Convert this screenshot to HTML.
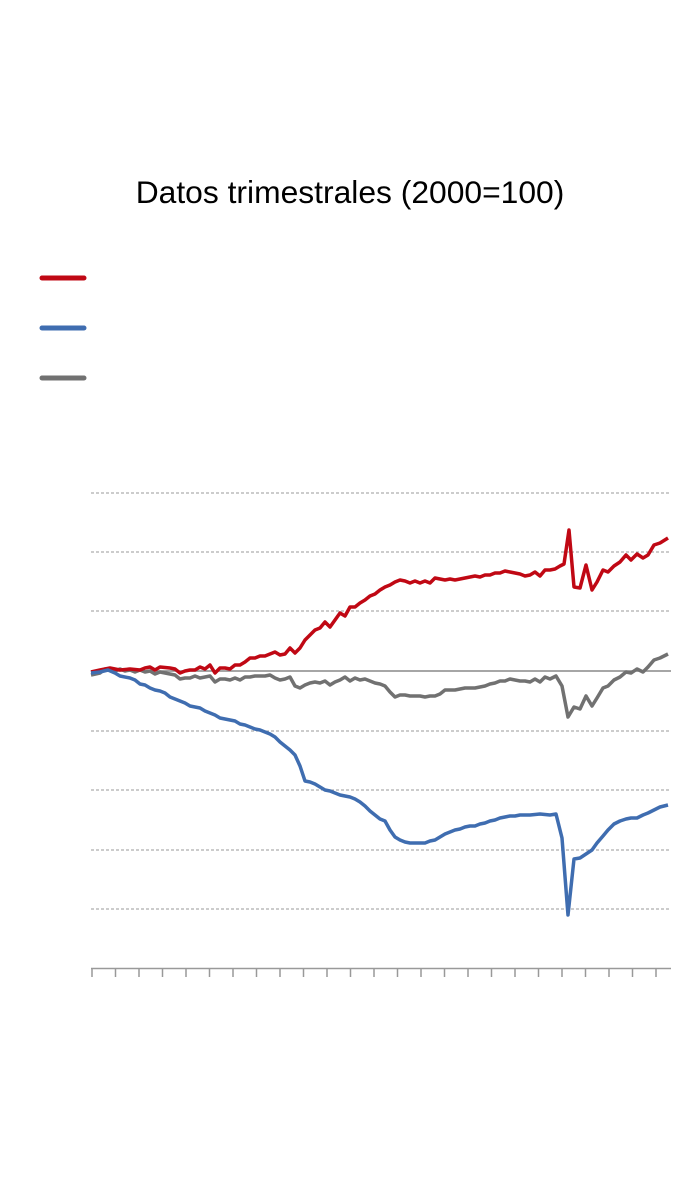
<!DOCTYPE html>
<html><head><meta charset="utf-8"><style>
html,body{margin:0;padding:0;background:#fff;}
svg{display:block;}
</style></head><body>
<svg width="700" height="1200" viewBox="0 0 700 1200" xmlns="http://www.w3.org/2000/svg">
<text x="350" y="203" text-anchor="middle" font-family="Liberation Sans, sans-serif" font-size="31.8" fill="#000">Datos trimestrales (2000=100)</text>
<g stroke-width="5" stroke-linecap="round">
<line x1="42" y1="278" x2="84" y2="278" stroke="#c00814"/>
<line x1="42" y1="328" x2="84" y2="328" stroke="#3f6db0"/>
<line x1="42" y1="378" x2="84" y2="378" stroke="#717171"/>
</g>
<g stroke="#999" stroke-width="1" stroke-dasharray="3,2">
<line x1="91" y1="493" x2="671" y2="493"/>
<line x1="91" y1="552" x2="671" y2="552"/>
<line x1="91" y1="611" x2="671" y2="611"/>
<line x1="91" y1="731" x2="671" y2="731"/>
<line x1="91" y1="790" x2="671" y2="790"/>
<line x1="91" y1="850" x2="671" y2="850"/>
<line x1="91" y1="909" x2="671" y2="909"/>
</g>
<line x1="91" y1="671" x2="671" y2="671" stroke="#888" stroke-width="1.5"/>
<line x1="91" y1="968.5" x2="671" y2="968.5" stroke="#999" stroke-width="1.5"/>
<g fill="none" stroke-width="3.5" stroke-linejoin="round">
<polyline stroke="#717171" points="91,675 100,673 105,669 110,670 115,671 120,669 125,671 130,670 135,672 140,670 145,672 150,671 155,674 160,672 165,673 170,674 175,675 180,679 185,678 190,678 195,676 200,678 205,677 210,676 215,682 220,679 225,679 230,680 235,678 240,680 245,677 250,677 255,676 260,676 265,676 270,675 275,678 280,680 285,679 290,677 295,686 300,688 305,685 310,683 315,682 320,683 325,681 330,685 335,682 340,680 345,677 350,681 355,678 360,680 365,679 370,681 375,683 380,684 385,686 390,692 395,697 400,695 405,695 410,696 415,696 420,696 425,697 430,696 435,696 440,694 445,690 450,690 455,690 460,689 465,688 470,688 475,688 480,687 485,686 490,684 495,683 500,681 505,681 510,679 515,680 520,681 525,681 530,682 535,679 540,682 545,677 550,679 556,676 562,686 568,717 574,707 580,709 586,696 592,706 597,698 603,688 608,686 614,680 620,677 626,672 631,673 637,669 643,672 648,667 654,660 660,658 668,654"/>
<polyline stroke="#c00814" points="91,672 100,670 110,668 120,670 130,669 140,670 145,668 150,667 155,670 160,667 170,668 175,669 180,673 185,671 190,670 195,670 200,667 205,669 210,665 215,673 220,668 225,668 230,669 235,665 240,665 245,662 250,658 255,658 260,656 265,656 270,654 275,652 280,655 285,654 290,648 295,653 300,648 305,640 310,635 315,630 320,628 325,622 330,627 335,620 340,613 345,616 350,607 355,607 360,603 365,600 370,596 375,594 380,590 385,587 390,585 395,582 400,580 405,581 410,583 415,581 420,583 425,581 430,583 435,578 440,579 445,580 450,579 455,580 460,579 465,578 470,577 475,576 480,577 485,575 490,575 495,573 500,573 505,571 510,572 515,573 520,574 525,576 530,575 535,572 540,576 545,570 550,570 555,569 560,566 564,564 569,530 574,587 580,588 586,565 592,590 597,582 603,570 608,572 614,566 620,562 626,555 631,560 637,554 643,558 648,555 654,545 660,543 668,538"/>
<polyline stroke="#3f6db0" points="91,673 100,672 108,670 115,673 120,676 130,678 135,680 140,684 145,685 150,688 155,690 160,691 165,693 170,697 175,699 180,701 185,703 190,706 195,707 200,708 205,711 210,713 215,715 220,718 225,719 230,720 235,721 240,724 245,725 250,727 255,729 260,730 265,732 270,734 275,737 280,742 285,746 290,750 295,755 300,766 305,781 310,782 315,784 320,787 325,790 330,791 335,793 340,795 345,796 350,797 355,799 360,802 365,806 370,811 375,815 380,819 385,821 390,830 395,837 400,840 405,842 410,843 415,843 420,843 425,843 430,841 435,840 440,837 445,834 450,832 455,830 460,829 465,827 470,826 475,826 480,824 485,823 490,821 495,820 500,818 505,817 510,816 515,816 520,815 530,815 540,814 550,815 556,814 562,838 568,915 574,859 580,858 586,854 592,850 597,843 603,836 608,830 614,824 620,821 626,819 631,818 637,818 643,815 648,813 654,810 660,807 668,805"/>
</g>
<g stroke="#999" stroke-width="1.5">
<line x1="92" y1="968" x2="92" y2="977"/><line x1="115.5" y1="968" x2="115.5" y2="977"/><line x1="139" y1="968" x2="139" y2="977"/><line x1="162.5" y1="968" x2="162.5" y2="977"/><line x1="186" y1="968" x2="186" y2="977"/><line x1="209.5" y1="968" x2="209.5" y2="977"/><line x1="233" y1="968" x2="233" y2="977"/><line x1="256.5" y1="968" x2="256.5" y2="977"/><line x1="280" y1="968" x2="280" y2="977"/><line x1="303.5" y1="968" x2="303.5" y2="977"/><line x1="327" y1="968" x2="327" y2="977"/><line x1="350.5" y1="968" x2="350.5" y2="977"/><line x1="374" y1="968" x2="374" y2="977"/><line x1="397.5" y1="968" x2="397.5" y2="977"/><line x1="421" y1="968" x2="421" y2="977"/><line x1="444.5" y1="968" x2="444.5" y2="977"/><line x1="468" y1="968" x2="468" y2="977"/><line x1="491.5" y1="968" x2="491.5" y2="977"/><line x1="515" y1="968" x2="515" y2="977"/><line x1="538.5" y1="968" x2="538.5" y2="977"/><line x1="562" y1="968" x2="562" y2="977"/><line x1="585.5" y1="968" x2="585.5" y2="977"/><line x1="609" y1="968" x2="609" y2="977"/><line x1="632.5" y1="968" x2="632.5" y2="977"/><line x1="656" y1="968" x2="656" y2="977"/>
</g>
</svg>
</body></html>
